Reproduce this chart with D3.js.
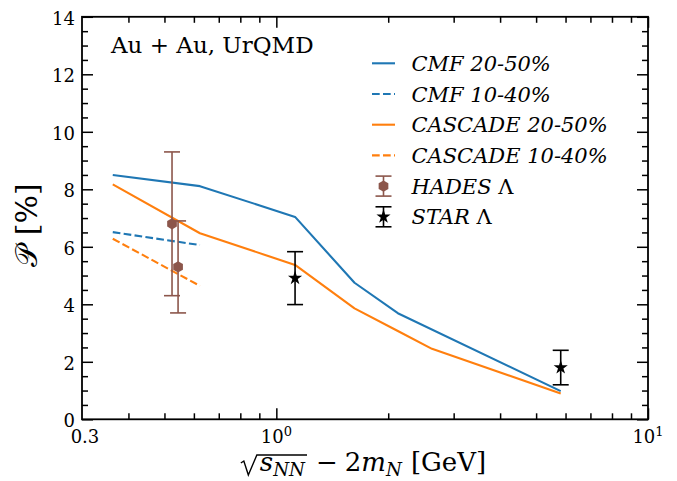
<!DOCTYPE html>
<html>
<head>
<meta charset="utf-8">
<script src="https://cdn.jsdelivr.net/npm/d3@7"></script>
<style>
  body { margin: 0; background: #fff; }
  text { font-family: "DejaVu Serif", serif; fill: #000; }
</style>
</head>
<body>
<svg id="chart" width="677" height="481"></svg>
<script>
// UrQMD model curves: x = sqrt(s_NN) - 2 m_N [GeV], y = polarization [%]
const cmfX = [0.363, 0.623, 1.123, 1.623, 2.123, 5.823];
const cmf2050 = [8.50, 8.11, 7.04, 4.75, 3.69, 0.98];
const cascadeX = [0.363, 0.623, 1.123, 1.623, 2.123, 2.623, 5.823];
const cascade2050 = [8.17, 6.47, 5.37, 3.86, 3.07, 2.45, 0.90];
const x1040 = [0.363, 0.623];
const cmf1040 = [6.51, 6.06];
const cascade1040 = [6.28, 4.64];

// Measurements
const hadesX = [0.524, 0.544];
const hadesY = [6.80, 5.30];
const hadesErr = [2.50, 1.60];
const starX = [1.123, 5.823];
const starY = [4.91, 1.80];
const starErr = [0.92, 0.60];

// Axis ticks
const yMajor = [0, 2, 4, 6, 8, 10, 12, 14];
const xMajor = [1, 10];
const xMinor = [0.4, 0.5, 0.6, 0.7, 0.8, 0.9, 2, 3, 4, 5, 6, 7, 8, 9];
const xTickBase = ["0.3", "10", "10"];
const xTickExp = ["", "0", "1"];
const xTickAt = [0.3, 1, 10];

const legendLabels = ["CMF 20-50%", "CMF 10-40%", "CASCADE 20-50%", "CASCADE 10-40%", "HADES ", "STAR "];

const BLUE = "#1f77b4", ORANGE = "#ff7f0e", BROWN = "#8c564b";
const SERIF = "DejaVu Serif";

const svg = d3.select("#chart");
const L = 82, R = 648, T = 16.8, B = 419.3;

const x = d3.scaleLog().domain([0.3, 10]).range([L, R]);
const y = d3.scaleLinear().domain([0, 14]).range([B, T]);

const line = d3.line().x(d => x(d[0])).y(d => y(d[1]));

const plot = svg.append("g");

function drawLine(xs, ys, color, dashed) {
  plot.append("path")
    .datum(xs.map((v, i) => [v, ys[i]]))
    .attr("d", line)
    .attr("fill", "none")
    .attr("stroke", color)
    .attr("stroke-width", 2.1)
    .attr("stroke-linejoin", "round")
    .attr("stroke-dasharray", dashed ? "7.7,3.3" : null);
}
drawLine(cmfX, cmf2050, BLUE, false);
drawLine(x1040, cmf1040, BLUE, true);
drawLine(cascadeX, cascade2050, ORANGE, false);
drawLine(x1040, cascade1040, ORANGE, true);

// hexagon (pointy top)
function hexPath(r) {
  const pts = d3.range(6).map(i => {
    const a = -Math.PI / 2 + i * Math.PI / 3;
    return [r * Math.cos(a), r * Math.sin(a)];
  });
  return "M" + pts.map(p => p.join(",")).join("L") + "Z";
}
const starSym = d3.symbol().type(d3.symbolStar).size(62);

function errorBar(g, cx, yc, yTop, yBot, color) {
  g.append("line").attr("x1", cx).attr("x2", cx).attr("y1", yTop).attr("y2", yBot)
    .attr("stroke", color).attr("stroke-width", 1.6);
  [yTop, yBot].forEach(yy => g.append("line")
    .attr("x1", cx - 8).attr("x2", cx + 8).attr("y1", yy).attr("y2", yy)
    .attr("stroke", color).attr("stroke-width", 1.6));
}

hadesX.forEach((xv, i) => {
  const cx = x(xv);
  errorBar(plot, cx, y(hadesY[i]), y(hadesY[i] + hadesErr[i]), y(hadesY[i] - hadesErr[i]), BROWN);
  plot.append("path").attr("d", hexPath(5.6)).attr("transform", `translate(${cx},${y(hadesY[i])})`)
    .attr("fill", BROWN);
});
starX.forEach((xv, i) => {
  const cx = x(xv);
  errorBar(plot, cx, y(starY[i]), y(starY[i] + starErr[i]), y(starY[i] - starErr[i]), "#000");
  plot.append("path").attr("d", starSym()).attr("transform", `translate(${cx},${y(starY[i])})`)
    .attr("fill", "#000");
});

// Axes with inward ticks on all four sides
const yMinor = d3.range(0, 14.01, 0.5).filter(v => v % 2 !== 0);
function axisG(axis, tx, ty) {
  const g = svg.append("g").attr("transform", `translate(${tx},${ty})`).call(axis);
  g.select(".domain").remove();
  g.selectAll(".tick line").attr("stroke", "#000").attr("stroke-width", 1.5);
  return g;
}
axisG(d3.axisBottom(x).tickValues(xMinor).tickSize(-6).tickFormat(""), 0, B);
axisG(d3.axisBottom(x).tickValues(xMajor).tickSize(-11).tickFormat(""), 0, B);
axisG(d3.axisTop(x).tickValues(xMinor).tickSize(-6).tickFormat(""), 0, T);
axisG(d3.axisTop(x).tickValues(xMajor).tickSize(-11).tickFormat(""), 0, T);
axisG(d3.axisRight(y).tickValues(yMinor).tickSize(-6).tickFormat(""), R, 0);
axisG(d3.axisRight(y).tickValues(yMajor).tickSize(-11).tickFormat(""), R, 0);
axisG(d3.axisLeft(y).tickValues(yMinor).tickSize(-6).tickFormat(""), L, 0);
const yAx = axisG(d3.axisLeft(y).tickValues(yMajor).tickSize(-11).tickPadding(7).tickFormat(d3.format("d")), L, 0);
yAx.selectAll(".tick text").attr("font-family", SERIF).attr("font-size", 18)
  .attr("fill", "#000").attr("dy", "0.42em");

svg.append("rect").attr("x", L).attr("y", T).attr("width", R - L).attr("height", B - T)
  .attr("fill", "none").attr("stroke", "#000").attr("stroke-width", 1.8);

// x tick labels with exponent
xTickAt.forEach((v, i) => {
  const t = svg.append("text").attr("x", x(v) + (i === 0 ? 3 : 0)).attr("y", 443).attr("text-anchor", "middle")
    .attr("font-family", SERIF).attr("font-size", 18);
  t.append("tspan").text(xTickBase[i]);
  if (xTickExp[i]) t.append("tspan").attr("font-size", 13).attr("dy", -7).text(xTickExp[i]);
});

// annotation
svg.append("text").attr("x", 111).attr("y", 53).attr("font-family", SERIF).attr("font-size", 23)
  .text("Au + Au, UrQMD");

// legend
const lg = svg.append("g");
const legY = i => 63.3 + i * 30.7;
const legStyle = [[BLUE, false], [BLUE, true], [ORANGE, false], [ORANGE, true]];
legStyle.forEach((s, i) => {
  lg.append("line").attr("x1", 372).attr("x2", 395).attr("y1", legY(i)).attr("y2", legY(i))
    .attr("stroke", s[0]).attr("stroke-width", 2.1).attr("stroke-dasharray", s[1] ? "7.7,3.3" : null);
});
errorBar(lg, 383.5, legY(4), legY(4) - 10, legY(4) + 10, BROWN);
lg.append("path").attr("d", hexPath(5.6)).attr("transform", `translate(383.5,${legY(4)})`).attr("fill", BROWN);
errorBar(lg, 383.5, legY(5), legY(5) - 10, legY(5) + 10, "#000");
lg.append("path").attr("d", starSym()).attr("transform", `translate(383.5,${legY(5)})`).attr("fill", "#000");
legendLabels.forEach((lab, i) => {
  const t = lg.append("text").attr("x", 411.5).attr("y", legY(i) + 7.5)
    .attr("font-family", SERIF).attr("font-size", 21).attr("font-style", "italic");
  t.append("tspan").text(lab);
  if (i >= 4) t.append("tspan").attr("font-style", "normal").text("Λ");
});

// y axis label
svg.append("text").attr("transform", "translate(37,225) rotate(-90)").attr("text-anchor", "middle")
  .attr("font-family", SERIF).attr("font-size", 30).text("𝒫 [%]");

// x axis label: sqrt(s_NN) - 2 m_N [GeV]
const xl = svg.append("g");
const fs = 26, base = 471;
let cx = 0;
function piece(str, italic, sub) {
  const t = xl.append("text").attr("x", cx).attr("y", sub ? base + 5 : base)
    .attr("font-family", SERIF)
    .attr("font-size", sub ? fs * 0.7 : fs).attr("font-style", italic ? "italic" : "normal").text(str);
  cx += t.node().getComputedTextLength();
  return t;
}
const radStart = 0;
cx = 19;
const overStart = 16;
piece("s", true, false);
piece("NN", true, true);
const overEnd = cx + 2;
xl.append("path")
  .attr("d", `M${radStart},${base - 8} L${radStart + 3},${base - 10} L${radStart + 7.5},${base + 4} L${overStart},${base - 16} L${overEnd},${base - 16}`)
  .attr("fill", "none").attr("stroke", "#000").attr("stroke-width", 1.4);
cx += 11;
piece("\u2212", false, false);
cx += 7;
piece("2", false, false);
piece("m", true, false);
piece("N", true, true);
cx += 9;
piece("[GeV]", false, false);
const total = cx;
xl.attr("transform", `translate(${363.5 - total / 2},0)`);
</script>
</body>
</html>
